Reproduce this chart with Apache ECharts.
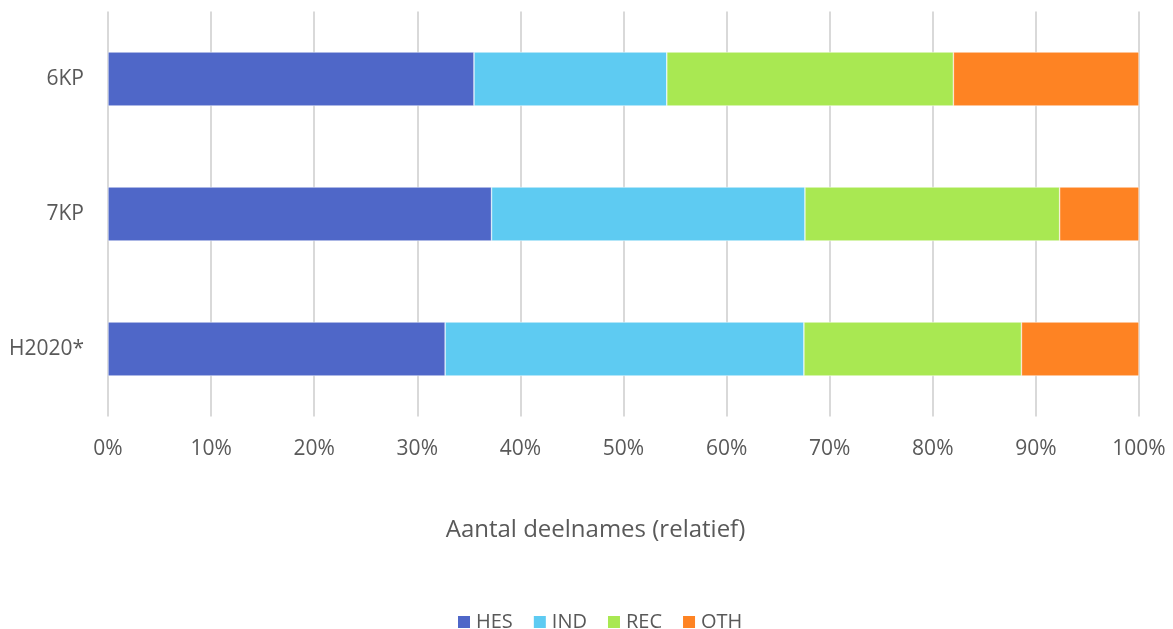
<!DOCTYPE html>
<html>
<head>
<meta charset="utf-8">
<script src="https://cdn.jsdelivr.net/npm/echarts@6/dist/echarts.min.js"></script>
<style>html,body{margin:0;padding:0;background:#fff;}#c{width:1173px;height:629px;}</style>
</head>
<body>
<div id="c"></div>
<script>
const categories = ['6KP', '7KP', 'H2020*'];
const seriesNames = ['HES', 'IND', 'REC', 'OTH'];
const HES = [35.5, 37.2, 32.7];
const IND = [18.7, 30.4, 34.8];
const REC = [27.8, 24.7, 21.1];
const OTH = [18.0, 7.7, 11.4];
const colors = ['#4f67c8', '#5ecbf2', '#a9e852', '#fe8323'];
const values = [HES, IND, REC, OTH];
const font = 'Open Sans';
const txt = '#595959';

const chart = echarts.init(document.getElementById('c'));
chart.setOption({
  animation: false,
  color: colors,
  grid: { left: 108, right: 34, top: 11.5, bottom: 212.5 },
  legend: {
    top: 607, left: 451, itemWidth: 14, itemHeight: 14, itemGap: 19,
    icon: 'rect',
    textStyle: { color: txt, fontSize: 20, fontFamily: font }
  },
  xAxis: {
    type: 'value', min: 0, max: 100, interval: 10,
    name: 'Aantal deelnames (relatief)', nameLocation: 'middle', nameGap: 102,
    nameTextStyle: { color: txt, fontSize: 24, fontFamily: font, padding: [0, 56, 0, 0] },
    axisLine: { show: false }, axisTick: { show: false },
    axisLabel: { formatter: '{value}%', color: txt, fontSize: 21, fontFamily: font, margin: 22 },
    splitLine: { show: true, lineStyle: { color: '#d9d9d9', width: 2 } }
  },
  yAxis: {
    type: 'category', data: categories, inverse: true,
    axisLine: { show: false }, axisTick: { show: false },
    axisLabel: { color: txt, fontSize: 21, fontFamily: font, margin: 24 }
  },
  series: seriesNames.map((n, i) => ({
    name: n, type: 'bar', stack: 'total', barWidth: '40%',
    data: values[i],
    itemStyle: { borderColor: '#fff', borderWidth: 0.5 }
  }))
});
</script>
</body>
</html>
